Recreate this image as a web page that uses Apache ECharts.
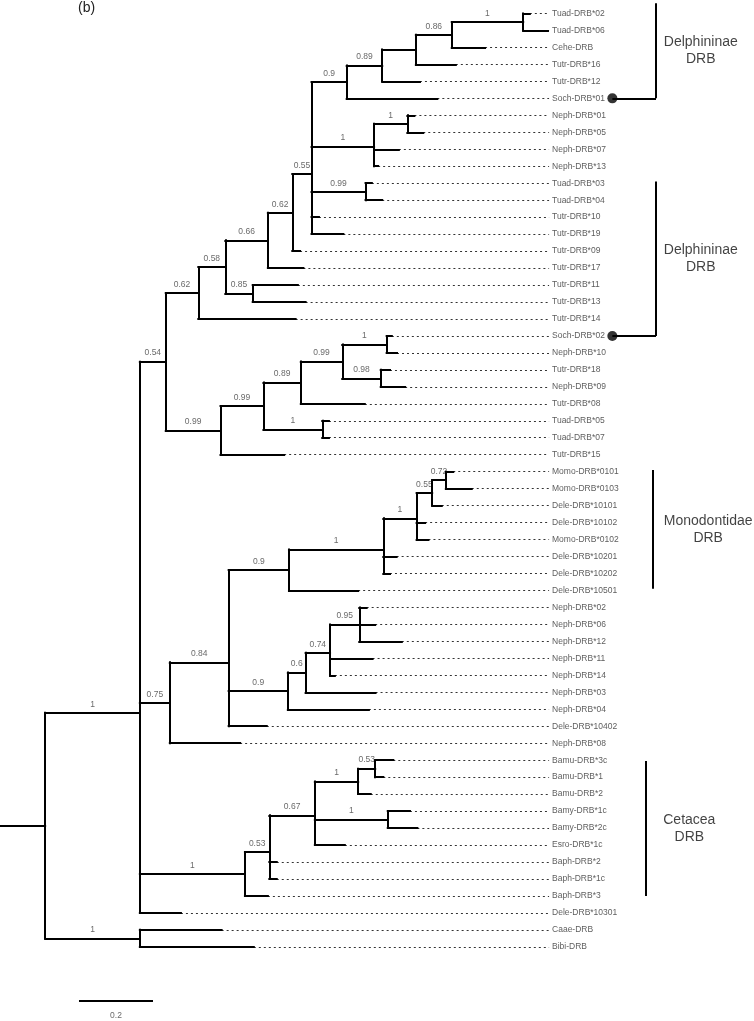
<!DOCTYPE html>
<html>
<head>
<meta charset="utf-8">
<script src="https://cdn.jsdelivr.net/npm/echarts@6/dist/echarts.min.js"></script>
<style>html,body{margin:0;padding:0;background:#fff}#c{width:754px;height:1021px}</style>
</head>
<body>
<div id="c"></div>
<script>
// ---- DATA ----
const leafNames = ['Tuad-DRB*02','Tuad-DRB*06','Cehe-DRB','Tutr-DRB*16','Tutr-DRB*12','Soch-DRB*01','Neph-DRB*01','Neph-DRB*05','Neph-DRB*07','Neph-DRB*13','Tuad-DRB*03','Tuad-DRB*04','Tutr-DRB*10','Tutr-DRB*19','Tutr-DRB*09','Tutr-DRB*17','Tutr-DRB*11','Tutr-DRB*13','Tutr-DRB*14','Soch-DRB*02','Neph-DRB*10','Tutr-DRB*18','Neph-DRB*09','Tutr-DRB*08','Tuad-DRB*05','Tuad-DRB*07','Tutr-DRB*15','Momo-DRB*0101','Momo-DRB*0103','Dele-DRB*10101','Dele-DRB*10102','Momo-DRB*0102','Dele-DRB*10201','Dele-DRB*10202','Dele-DRB*10501','Neph-DRB*02','Neph-DRB*06','Neph-DRB*12','Neph-DRB*11','Neph-DRB*14','Neph-DRB*03','Neph-DRB*04','Dele-DRB*10402','Neph-DRB*08','Bamu-DRB*3c','Bamu-DRB*1','Bamu-DRB*2','Bamy-DRB*1c','Bamy-DRB*2c','Esro-DRB*1c','Baph-DRB*2','Baph-DRB*1c','Baph-DRB*3','Dele-DRB*10301','Caae-DRB','Bibi-DRB'];
const leafParent = [13,13,12,11,10,9,15,15,14,14,16,16,8,8,7,6,17,17,4,22,22,23,23,20,24,24,18,31,31,30,29,29,28,28,27,35,35,35,34,34,33,32,26,25,40,40,39,41,41,38,37,37,36,1,2,2];
const leafDepth = [1.432,1.481,1.311,1.232,1.135,1.182,1.120,1.144,1.078,1.022,1.005,1.033,0.862,0.928,0.811,0.820,0.805,0.826,0.799,1.059,1.073,1.054,1.095,0.986,0.889,0.889,0.768,1.225,1.275,1.194,1.149,1.158,1.072,1.054,0.968,0.991,1.014,1.086,1.007,0.905,1.015,0.997,0.721,0.649,1.063,1.036,1.002,1.108,1.128,0.932,0.748,0.748,0.724,0.489,0.599,0.686];
const nodeParent = [-1,0,0,1,3,4,5,6,7,8,9,10,11,12,8,14,8,5,3,18,19,20,21,21,19,1,25,26,27,28,29,30,26,32,33,34,1,36,37,38,39,38];
const nodeDepth = [0.122,0.378,0.378,0.448,0.536,0.609,0.724,0.790,0.842,0.937,1.033,1.124,1.221,1.414,1.011,1.101,0.988,0.683,0.596,0.712,0.813,0.925,1.045,1.029,0.871,0.459,0.618,0.781,1.036,1.126,1.168,1.205,0.778,0.826,0.892,0.971,0.662,0.728,0.851,0.968,1.014,1.048];
const nodeSupport = ['','1','1','0.54','0.62','0.58','0.66','0.62','0.55','0.9','0.89','','0.86','1','1','1','0.99','0.85','0.99','0.99','0.89','0.99','1','0.98','1','0.75','0.84','0.9','1','1','0.55','0.72','0.9','0.6','0.74','0.95','1','0.53','0.67','1','0.53','1'];
const cladeNames = ['Delphininae\nDRB','Delphininae\nDRB','Monodontidae\nDRB','Cetacea\nDRB'];
const cladeFrom = [-0.6, 9.9, 26.9, 44.05];
const cladeTo = [5, 19, 33.9, 52];
const cladeMarkerLeaf = [5, 19, null, null];
const scaleBarLength = 0.2;
const scaleBarLabel = '0.2';

// ---- LAYOUT (style) ----
const L = {
  dotEnd: 1.484, labelX: 1.492,
  cladeBarX: [1.773, 1.773, 1.763, 1.746],
  cladeTextX: [1.894, 1.894, 1.914, 1.863],
  markerX: 1.655,
  scaleX0: 0.2135, scaleY: 58.17
};
const FONT = '"Liberation Sans", Arial, sans-serif';

// ---- TREE GEOMETRY ----
const nN = nodeParent.length;
const kids = Array.from({length: nN}, () => []);
leafParent.forEach((p, i) => kids[p].push({leaf: i}));
nodeParent.forEach((p, i) => { if (p >= 0) kids[p].push({node: i}); });
const nodeY = new Array(nN);
function yOf(c) { return c.leaf !== undefined ? c.leaf : computeY(c.node); }
function computeY(n) {
  if (nodeY[n] !== undefined) return nodeY[n];
  const ys = kids[n].map(yOf);
  nodeY[n] = ys.reduce((a, b) => a + b, 0) / ys.length;
  return nodeY[n];
}
for (let n = 0; n < nN; n++) computeY(n);

const solid = [], dotted = [], supports = [];
solid.push({coords: [[0, nodeY[0]], [nodeDepth[0], nodeY[0]]]});
for (let n = 0; n < nN; n++) {
  const ys = kids[n].map(yOf);
  solid.push({coords: [[nodeDepth[n], Math.min(...ys)], [nodeDepth[n], Math.max(...ys)]]});
  const p = nodeParent[n];
  if (p >= 0) {
    solid.push({coords: [[nodeDepth[p], nodeY[n]], [nodeDepth[n], nodeY[n]]]});
    if (nodeSupport[n]) supports.push({value: [(nodeDepth[p] + nodeDepth[n]) / 2, nodeY[n]], name: nodeSupport[n]});
  }
}
leafNames.forEach((nm, i) => {
  solid.push({coords: [[nodeDepth[leafParent[i]], i], [leafDepth[i], i]]});
  if (leafDepth[i] < L.dotEnd) dotted.push({coords: [[leafDepth[i], i], [L.dotEnd, i]]});
});
const leafLabels = leafNames.map((nm, i) => ({value: [L.labelX, i], name: nm}));

const cladeLines = [], cladeMarkers = [], cladeTexts = [];
cladeNames.forEach((nm, k) => {
  cladeLines.push({coords: [[L.cladeBarX[k], cladeFrom[k]], [L.cladeBarX[k], cladeTo[k]]]});
  if (cladeMarkerLeaf[k] !== null) {
    cladeLines.push({coords: [[L.markerX, cladeMarkerLeaf[k]], [L.cladeBarX[k], cladeMarkerLeaf[k]]]});
    cladeMarkers.push([L.markerX, cladeMarkerLeaf[k]]);
  }
  cladeTexts.push({value: [L.cladeTextX[k], (cladeFrom[k] + cladeTo[k]) / 2], name: nm});
});

const chart = echarts.init(document.getElementById('c'), null, {renderer: 'canvas'});
chart.setOption({
  animation: false,
  backgroundColor: '#fff',
  title: {text: '(b)', left: 78, top: 1, padding: 0, textStyle: {fontFamily: FONT, fontSize: 14, fontWeight: 'normal', color: '#222'}},
  grid: {left: 0, right: 0, top: 0, bottom: 0, containLabel: false},
  xAxis: {type: 'value', show: false, min: 0, max: 754 / 370},
  yAxis: {type: 'value', show: false, inverse: true, min: -0.795, max: 59.37},
  series: [
    {type: 'lines', coordinateSystem: 'cartesian2d', silent: true, z: 3,
     lineStyle: {color: '#000', width: 2, cap: 'square', opacity: 1}, data: solid},
    {type: 'lines', coordinateSystem: 'cartesian2d', silent: true, z: 2,
     lineStyle: {color: '#333', width: 1, type: [2, 3], opacity: 1}, data: dotted},
    {type: 'lines', coordinateSystem: 'cartesian2d', silent: true, z: 3,
     lineStyle: {color: '#000', width: 2, opacity: 1},
     data: cladeLines.concat([{coords: [[L.scaleX0, L.scaleY], [L.scaleX0 + scaleBarLength, L.scaleY]]}])},
    {type: 'scatter', silent: true, symbolSize: 10, itemStyle: {color: '#000'}, z: 4, data: cladeMarkers},
    {type: 'scatter', silent: true, symbolSize: 0, data: supports,
     label: {show: true, position: 'top', distance: 4, formatter: p => p.name, fontFamily: FONT, fontSize: 8.5, color: '#444'}},
    {type: 'scatter', silent: true, symbolSize: 0, data: leafLabels,
     label: {show: true, position: 'right', distance: 0, formatter: p => p.name, fontFamily: FONT, fontSize: 8.5, color: '#333'}},
    {type: 'scatter', silent: true, symbolSize: 0, data: cladeTexts,
     label: {show: true, position: 'inside', formatter: p => p.name, fontFamily: FONT, fontSize: 14, lineHeight: 17, align: 'center', color: '#111'}},
    {type: 'scatter', silent: true, symbolSize: 0, data: [{value: [L.scaleX0 + scaleBarLength / 2, L.scaleY], name: scaleBarLabel}],
     label: {show: true, position: 'bottom', distance: 11, formatter: p => p.name, fontFamily: FONT, fontSize: 8.5, color: '#444'}}
  ]
});
</script>
</body>
</html>
